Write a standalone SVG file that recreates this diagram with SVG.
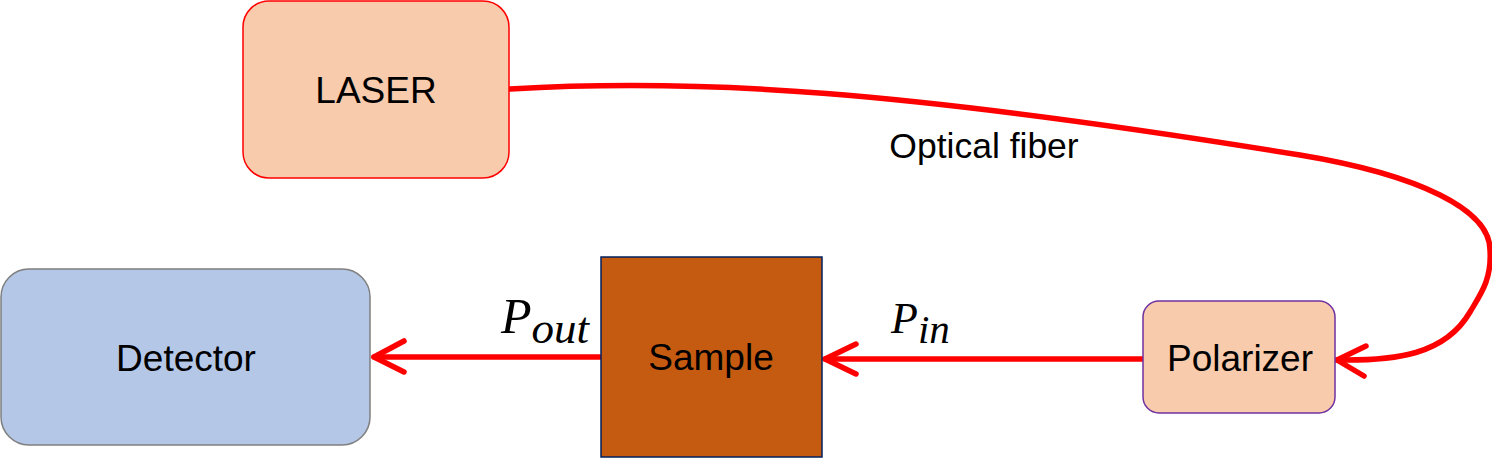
<svg xmlns="http://www.w3.org/2000/svg" width="1492" height="459" viewBox="0 0 1492 459">
<style>
.lbl{font-family:"Liberation Sans",Arial,sans-serif;fill:#000;text-anchor:middle}
.math{font-family:"Liberation Serif","Times New Roman",serif;font-style:italic;fill:#000}
.wire{fill:none;stroke:#FF0000;stroke-width:5.5;stroke-linecap:round;stroke-linejoin:round}
</style>
<rect width="1492" height="459" fill="#fff"/>
<g id="connectors">
<path class="wire" d="M 510 89 C 700 78, 900 90, 1300 155 C 1420 175, 1490 210, 1490 250 C 1492 280, 1480 295, 1470 312 C 1445 355, 1395 361, 1337 360"/>
<path class="wire" d="M 1366 346 L 1337 360 L 1364 376"/>
<path class="wire" d="M 1143 359 L 825 359"/>
<path class="wire" d="M 856 344 L 825 359 L 856 374"/>
<path class="wire" d="M 601 357 L 374 357"/>
<path class="wire" d="M 404 341 L 374 357 L 404 372"/>
<text class="lbl" x="984" y="158" font-size="35.5">Optical fiber</text>
<text class="math" x="501" y="333" font-size="50">P<tspan font-size="45" dy="10">out</tspan></text>
<text class="math" x="891" y="333" font-size="44">P<tspan font-size="41" dy="10">in</tspan></text>
</g>
<g id="laser">
<rect x="243" y="1" width="266" height="177" rx="26" fill="#F8CBAD" stroke="#FF0000" stroke-width="1.5"/>
<text class="lbl" x="376" y="103" font-size="37">LASER</text>
</g>
<g id="detector">
<rect x="1" y="269" width="369" height="176" rx="28" fill="#B4C7E7" stroke="#7F7F7F" stroke-width="1.5"/>
<text class="lbl" x="186" y="371" font-size="37">Detector</text>
</g>
<g id="sample">
<rect x="601" y="257" width="221" height="200" fill="#C55A11" stroke="#002060" stroke-width="1.5"/>
<text class="lbl" x="711" y="370" font-size="37">Sample</text>
</g>
<g id="polarizer">
<rect x="1143" y="301" width="192" height="112" rx="16" fill="#F8CBAD" stroke="#7030A0" stroke-width="1.5"/>
<text class="lbl" x="1240" y="371" font-size="37">Polarizer</text>
</g>
</svg>
